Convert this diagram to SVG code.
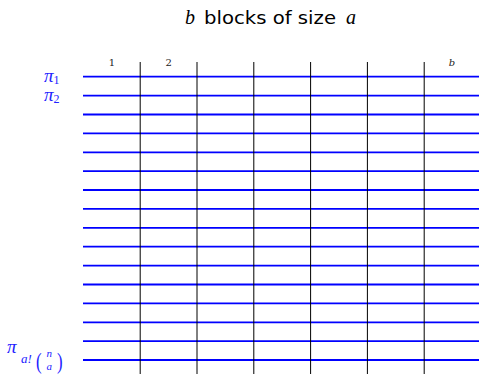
<svg xmlns="http://www.w3.org/2000/svg" width="479" height="374" viewBox="0 0 479 374">
<style>
.h{stroke:#0000ff;stroke-width:1.8;fill:none}
.v{stroke:#000;stroke-width:1;fill:none}
.lab{font-family:"DejaVu Serif",serif;font-size:10px;fill:#222}
.pi{font-family:"Liberation Serif",serif;fill:#2222ff}
.t{font-family:"DejaVu Sans","Liberation Sans",sans-serif;font-size:17px;fill:#000}
.ti{font-family:"Liberation Serif",serif;font-style:italic;font-size:20px;fill:#000}
</style>
<rect width="479" height="374" fill="#fff"/>
<g id="title">
<text class="ti" x="185" y="24">b</text>
<text class="t" x="204" y="24" textLength="132" lengthAdjust="spacingAndGlyphs">blocks of size</text>
<text class="ti" x="346" y="24">a</text>
</g>
<g id="connectors">
<line class="h" x1="83" y1="76.7" x2="479" y2="76.7"/>
<line class="h" x1="83" y1="95.6" x2="479" y2="95.6"/>
<line class="h" x1="83" y1="114.5" x2="479" y2="114.5"/>
<line class="h" x1="83" y1="133.4" x2="479" y2="133.4"/>
<line class="h" x1="83" y1="152.3" x2="479" y2="152.3"/>
<line class="h" x1="83" y1="171.2" x2="479" y2="171.2"/>
<line class="h" x1="83" y1="190.0" x2="479" y2="190.0"/>
<line class="h" x1="83" y1="208.9" x2="479" y2="208.9"/>
<line class="h" x1="83" y1="227.8" x2="479" y2="227.8"/>
<line class="h" x1="83" y1="246.7" x2="479" y2="246.7"/>
<line class="h" x1="83" y1="265.6" x2="479" y2="265.6"/>
<line class="h" x1="83" y1="284.5" x2="479" y2="284.5"/>
<line class="h" x1="83" y1="303.4" x2="479" y2="303.4"/>
<line class="h" x1="83" y1="322.3" x2="479" y2="322.3"/>
<line class="h" x1="83" y1="341.2" x2="479" y2="341.2"/>
<line class="h" x1="83" y1="360.0" x2="479" y2="360.0"/>
<line class="v" x1="140.2" y1="62" x2="140.2" y2="374"/>
<line class="v" x1="197" y1="62" x2="197" y2="374" stroke="#444"/>
<line class="v" x1="253.8" y1="62" x2="253.8" y2="374" stroke="#444"/>
<line class="v" x1="310.6" y1="62" x2="310.6" y2="374"/>
<line class="v" x1="367.4" y1="62" x2="367.4" y2="374" stroke="#444"/>
<line class="v" x1="424.2" y1="62" x2="424.2" y2="374" stroke="#444"/>
</g>
<g id="block-labels">
<text class="lab" x="112" y="65.5" text-anchor="middle">1</text>
<text class="lab" x="168.6" y="65.5" text-anchor="middle">2</text>
<text class="lab" x="452" y="65.5" text-anchor="middle" font-style="italic">b</text>
</g>
<g id="row-labels">
<text class="pi" x="44" y="82" font-size="19" font-style="italic">π<tspan font-size="12" font-style="normal" dy="2">1</tspan></text>
<text class="pi" x="44" y="101" font-size="19" font-style="italic">π<tspan font-size="12" font-style="normal" dy="2">2</tspan></text>
<text class="pi" x="7" y="353" font-size="19" font-style="italic">π</text>
<text class="pi" x="21" y="363" font-size="13" font-style="italic">a!</text>
<text class="pi" x="36" y="369" font-size="24" transform="translate(36,369) scale(0.7,1) translate(-36,-369)">(</text>
<text class="pi" x="46.5" y="357" font-size="11" font-style="italic">n</text>
<text class="pi" x="46.5" y="370" font-size="11" font-style="italic">a</text>
<text class="pi" x="57" y="369" font-size="24" transform="translate(57,369) scale(0.7,1) translate(-57,-369)">)</text>
</g>
</svg>
